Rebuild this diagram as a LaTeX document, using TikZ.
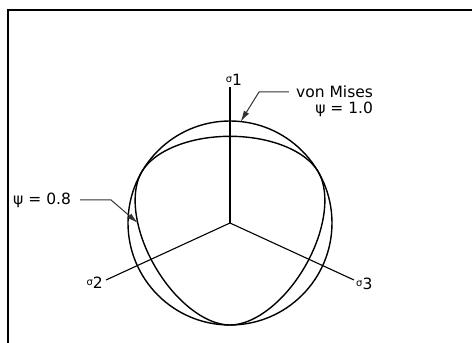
\documentclass[tikz,border=0pt]{standalone}
\usepackage{fontspec}
\setmainfont{DejaVu Sans}
\usetikzlibrary{arrows.meta, positioning}

\newcommand{\psiw}{0.85}
\newcommand{\sigl}[1]{\raisebox{3.5pt}{\fontsize{10}{10}\selectfont σ}#1}

\begin{document}
\begin{tikzpicture}[
  x=1pt, y=1pt,
  frame/.style={line width=2.4pt},
  curve/.style={line width=1.4pt},
  axis/.style={line width=1.1pt},
  lead/.style={line width=1pt, draw=black!80, -{Latex[length=11pt,width=6pt]}},
  lbl/.style={font=\fontsize{15.5}{18}\selectfont, inner sep=1pt},
  declare function={
    wwc(\a)=cos(abs(mod(\a+90,120)-60));
    wwr(\c)=(2*(1-\psiw^2)*\c+(2*\psiw-1)*sqrt(4*(1-\psiw^2)*\c^2+5*\psiw^2-4*\psiw))/(4*(1-\psiw^2)*\c^2+(1-2*\psiw)^2);
  }
]
\useasboundingbox (-230,-120) rectangle (242,223);

% Frame
\draw[frame] (-222,-125) -- (-222,213) -- (250,213);

% Axes
\coordinate (o) at (0,0);
\coordinate (s1) at (0,136);
\coordinate (s2) at (-124,-57);
\coordinate (s3) at (124,-57);
\draw[axis] (o) -- (s1);
\draw[axis] (o) -- (s2);
\draw[axis] (o) -- (s3);

\node[lbl, above=0pt of s1, xshift=4pt] (s1lbl) {\sigl{1}};
\node[lbl, left=2pt of s2, yshift=-3pt] (s2lbl) {\sigl{2}};
\node[lbl, right=1pt of s3, yshift=-4pt] (s3lbl) {\sigl{3}};

% Surfaces
\draw[curve] (o) circle (102);
\draw[curve] plot[domain=0:360, samples=121, smooth] (\x:{102*wwr(wwc(\x))}) -- cycle;

% Labels
\coordinate (vmtip) at (84:102);
\coordinate (wwtip) at (180:{102*wwr(wwc(180))});

\node[lbl, anchor=west] (vm) at (65,131) {von Mises};
\node[lbl, below=2pt of vm.south east, anchor=north east] (vmpsi) {ψ = 1.0};
\node[lbl, anchor=west] (ww) at (-218,23) {ψ = 0.8};

\draw[lead] ([xshift=-6pt]vm.west) -- ++(-30,0) -- (vmtip);
\draw[lead] ([xshift=8pt]ww.east) -- ++(31,0) -- (wwtip);

\end{tikzpicture}
\end{document}
